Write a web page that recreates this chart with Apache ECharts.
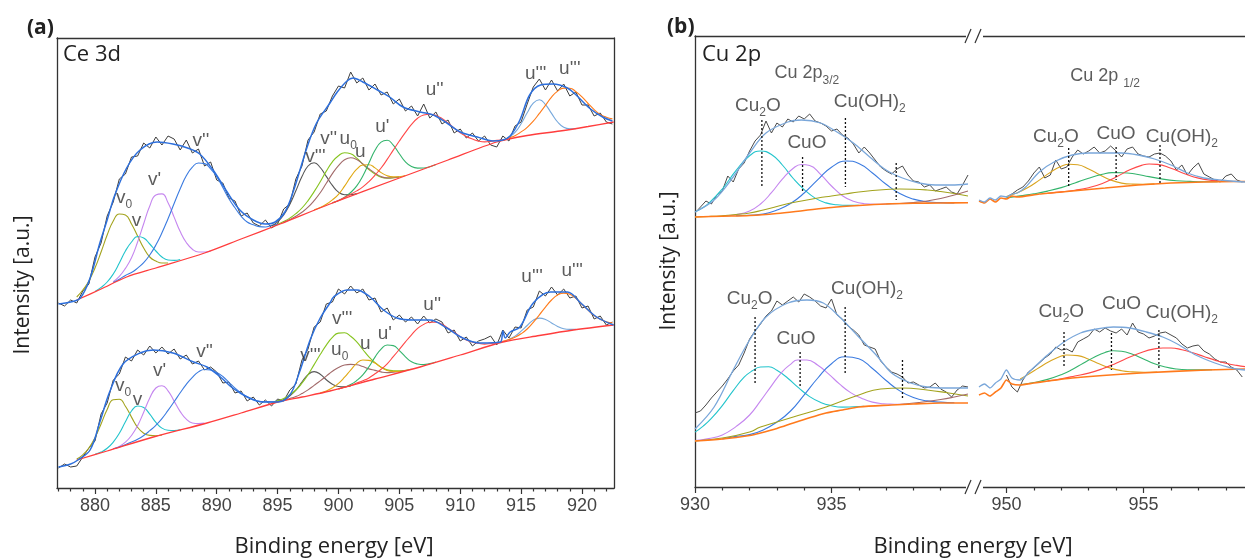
<!DOCTYPE html>
<html>
<head>
<meta charset="utf-8">
<title>XPS Ce 3d and Cu 2p</title>
<script src="https://cdn.jsdelivr.net/npm/echarts@6/dist/echarts.min.js"></script>
<style>
  html, body { margin: 0; padding: 0; background: #ffffff; }
  #chart { width: 1245px; height: 558px; }
</style>
</head>
<body>
<div id="chart"></div>
<script>
// ---------------- Ce 3d (panel a) ----------------
const ceTickMajor = [880, 885, 890, 895, 900, 905, 910, 915, 920];
const ceTickMinor = [877, 878, 879, 881, 882, 883, 884, 886, 887, 888, 889, 891, 892, 893, 894, 896, 897, 898, 899,
  901, 902, 903, 904, 906, 907, 908, 909, 911, 912, 913, 914, 916, 917, 918, 919, 921, 922];

const ceEnergy = [877, 877.5, 878, 878.5, 879, 879.5, 880, 880.5, 881, 881.5, 882, 882.5, 883, 883.5, 884, 884.5,
  885, 885.5, 886, 886.5, 887, 887.5, 888, 888.5, 889, 889.5, 890, 890.5, 891, 891.5, 892, 892.5, 893, 893.5,
  894, 894.5, 895, 895.5, 896, 896.5, 897, 897.5, 898, 898.5, 899, 899.5, 900, 900.5, 901, 901.5, 902, 902.5,
  903, 903.5, 904, 904.5, 905, 905.5, 906, 906.5, 907, 907.5, 908, 908.5, 909, 909.5, 910, 910.5, 911, 911.5,
  912, 912.5, 913, 913.5, 914, 914.5, 915, 915.5, 916, 916.5, 917, 917.5, 918, 918.5, 919, 919.5, 920, 920.5,
  921, 921.5, 922, 922.5];

const ceTopRaw = [185, 182, 188, 185, 197, 204, 231, 245, 272, 286, 309, 314, 331, 332, 345, 340, 351, 343, 352, 349,
  338, 348, 335, 339, 322, 326, 308, 305, 290, 287, 272, 275, 265, 262, 268, 260, 264, 279, 284, 309, 322, 348,
  356, 374, 377, 392, 402, 400, 416, 405, 410, 398, 404, 393, 396, 384, 389, 377, 382, 372, 384, 370, 376, 364,
  368, 355, 359, 350, 355, 347, 352, 343, 341, 352, 347, 362, 366, 384, 401, 409, 398, 408, 397, 404, 392, 396,
  383, 383, 372, 375, 366, 364];

const ceBotRaw = [20, 24, 21, 22, 31, 40, 47, 74, 85, 108, 114, 131, 127, 138, 133, 142, 135, 141, 134, 139, 129, 133,
  124, 127, 118, 121, 116, 105, 106, 95, 97, 87, 91, 83, 88, 82, 89, 87, 98, 104, 128, 139, 161, 166, 184, 186,
  199, 194, 202, 195, 199, 188, 190, 176, 180, 168, 173, 166, 171, 164, 172, 165, 169, 166, 155, 158, 147, 151,
  142, 147, 149, 152, 143, 158, 150, 161, 160, 178, 181, 197, 192, 201, 193, 199, 190, 192, 180, 182, 169, 172,
  163, 166];

const ceTopBg = [[878.5, 188], [880.5, 199], [882.6, 211], [885, 220], [889, 235], [892, 249], [895.2, 264], [899.3, 284],
  [905, 310], [909, 328], [913, 346], [915.5, 352.5], [918.2, 357], [920.5, 361.5], [922.6, 366]];
const ceTopEnvelope = [[877, 184], [878, 186], [878.8, 190], [879.6, 210], [880.4, 245], [881, 268], [881.6, 292],
  [882.6, 320], [883.7, 338], [885.1, 346], [886.4, 344], [887.6, 340], [888.6, 334], [889.7, 318], [890.8, 297],
  [891.9, 278], [893, 268], [894, 264], [894.8, 266], [895.6, 276], [896.3, 297], [897.4, 340], [898.2, 365],
  [899.3, 385], [899.9, 396], [900.7, 407], [901.2, 410], [902, 406], [903.2, 398], [904.2, 391], [905.3, 381],
  [906.7, 376], [907.8, 373], [908.9, 365], [910, 356], [911.4, 351], [912.7, 347], [913.5, 348], [914.1, 352],
  [914.9, 368], [915.7, 393], [916.6, 403], [917.6, 404], [918.8, 400], [919.6, 392], [920.7, 379], [921.7, 371],
  [922.5, 367]];

const ceTopV0 = [[878.5, 191], [879, 198], [879.5, 207], [880, 220], [880.5, 236], [881, 253], [881.5, 267], [882, 274],
  [882.5, 273], [883, 264], [883.5, 252], [884, 240], [884.5, 231], [885, 227], [885.5, 225], [886, 225]];
const ceTopV = [[880, 196.5], [880.5, 200.6], [881, 206], [881.5, 214], [882, 225], [882.5, 237], [883, 246],
  [883.5, 251.5], [884, 250], [884.5, 244], [885, 237], [885.5, 231], [886, 228], [886.5, 227.6], [887, 228.5]];
const ceTopV1 = [[881.5, 206.3], [882, 211.6], [882.5, 219.6], [883, 230.2], [883.5, 246], [884, 264.3], [884.5, 282],
  [885, 293.1], [885.5, 294.1], [886, 285.2], [886.5, 270.9], [887, 256.4], [887.5, 245.5], [888, 238.8],
  [888.5, 236], [889, 236], [889.5, 237]];
const ceTopV2 = [[881.5, 205.4], [882, 208.8], [882.5, 212.6], [883, 215.5], [883.5, 219.9], [884, 225.3], [884.5, 233],
  [885, 242.9], [885.5, 255.2], [886, 269.3], [886.5, 284.5], [887, 299.3], [887.5, 312.2], [888, 320.9], [888.5, 325],
  [889, 324.4], [889.5, 319.2], [890, 311.3], [890.5, 300.5], [891, 289.3], [891.5, 280.2], [892, 271.9], [892.5, 266],
  [893, 263.3], [893.5, 261.4], [894, 261], [894.5, 262.6], [895, 263.8]];
const ceTopV3 = [[894.5, 262.1], [895, 266.2], [895.5, 273.1], [896, 283.6], [896.5, 297.2], [897, 311.4], [897.5, 322],
  [898, 325.3], [898.5, 320.5], [899, 311.6], [899.5, 302.6], [900, 295.9], [900.5, 293.3], [901, 293.4], [901.5, 294.4]];
const ceTopV2b = [[895, 263.4], [895.5, 266.4], [896, 269.9], [896.5, 274.3], [897, 280], [897.5, 287.4], [898, 296.4],
  [898.5, 306.3], [899, 316.9], [899.5, 326.2], [900, 332.3], [900.5, 335.2], [901, 334.3], [901.5, 329.8], [902, 323.9],
  [902.5, 318.4], [903, 314], [903.5, 310.8], [904, 309.8], [904.5, 310.2], [905, 311]];
const ceTopU0 = [[895.5, 265.7], [896, 268.5], [896.5, 271.7], [897, 275.7], [897.5, 280.8], [898, 287.4], [898.5, 295.2],
  [899, 304.7], [899.5, 314.4], [900, 322.4], [900.5, 328.2], [901, 330.3], [901.5, 328.4], [902, 324], [902.5, 319.2],
  [903, 314.9], [903.5, 311.4], [904, 310.1], [904.5, 310.3], [905, 311.1]];
const ceTopU = [[898, 278.1], [898.5, 280.4], [899, 283.7], [899.5, 288.1], [900, 293.7], [900.5, 301.9], [901, 311.1],
  [901.5, 318.8], [902, 323], [902.5, 323.3], [903, 320.1], [903.5, 315.4], [904, 312.2], [904.5, 311.1], [905, 311.2],
  [905.5, 312.4]];
const ceTopU1 = [[899.5, 285.1], [900, 287.4], [900.5, 290.7], [901, 295.5], [901.5, 302.1], [902, 312], [902.5, 324.9],
  [903, 337.7], [903.5, 345.9], [904, 347.7], [904.5, 342.8], [905, 334.2], [905.5, 326.1], [906, 321.4], [906.5, 319.9],
  [907, 320], [907.5, 321.3], [908, 323.5]];
const ceTopU2 = [[899.5, 285.3], [900, 287.5], [900.5, 290.5], [901, 293.8], [901.5, 297.1], [902, 301.1], [902.5, 306.4],
  [903, 312.9], [903.5, 320], [904, 328.6], [904.5, 337.9], [905, 347], [905.5, 355.6], [906, 363.6], [906.5, 369.8],
  [907, 373], [907.5, 373.8], [908, 372.6], [908.5, 369.6], [909, 365], [909.5, 359.9], [910, 355.1], [910.5, 351.5],
  [911, 348.9], [911.5, 346.9], [912, 346.1], [912.5, 346.6], [913, 347.8], [913.5, 348]];
const ceTopU3 = [[913.5, 347.5], [914, 350.9], [914.5, 355.6], [915, 364.3], [915.5, 375.2], [916, 384.9], [916.5, 388.3],
  [917, 383.4], [917.5, 374.6], [918, 366], [918.5, 360.7], [919, 359.2], [919.5, 359.3]];
const ceTopU4 = [[913.5, 347.5], [914, 350.1], [914.5, 352.3], [915, 356.1], [915.5, 360.7], [916, 366.8], [916.5, 374.6],
  [917, 382.6], [917.5, 390.9], [918, 396.9], [918.5, 399.9], [919, 399.8], [919.5, 396.4], [920, 391.1], [920.5, 384.5],
  [921, 378.4], [921.5, 373.5], [922, 370.8], [922.5, 369.1]];

const ceBotBg = [[878.5, 28], [881, 37], [884.8, 51], [889.2, 65], [892, 75], [895, 86], [897, 91], [899.3, 97],
  [903, 109], [906.7, 121], [910, 133], [913.5, 146], [916.5, 152.5], [919.3, 158], [922.6, 163]];
const ceBotEnvelope = [[877, 21], [878, 24], [878.6, 28], [879.6, 38], [880.4, 66], [881.2, 96], [882.3, 124],
  [883.7, 135], [884.8, 138], [886.4, 135], [888.1, 126], [889.2, 121], [890.3, 111], [891.3, 100], [892.5, 91],
  [893.8, 86], [895, 86], [896, 93], [896.8, 116], [897.7, 149], [898.5, 170], [899.3, 185], [899.6, 191], [900.7, 198],
  [901.5, 198], [902.6, 191], [903.7, 178], [904.8, 170], [906.1, 168], [907.5, 168], [908.9, 160], [910.2, 150],
  [911.6, 145], [913.3, 146], [913.5, 157], [913.7, 150], [914.1, 156], [914.9, 161], [916, 185], [917.4, 196],
  [918.8, 196], [919.9, 185], [921.2, 171], [922.6, 163]];

const ceBotV0 = [[878.5, 29], [879, 33.2], [879.5, 40], [880, 50.3], [880.5, 64], [881, 78.5], [881.5, 88.3], [882, 88.8],
  [882.5, 81.7], [883, 70.9], [883.5, 60.7], [884, 54.8], [884.5, 52.6], [885, 52.3], [885.5, 53]];
const ceBotV = [[880, 33.7], [880.5, 35.9], [881, 39.7], [881.5, 45.9], [882, 54.7], [882.5, 66.3], [883, 77], [883.5, 82],
  [884, 80.5], [884.5, 73.8], [885, 65.7], [885.5, 59.9], [886, 57.7], [886.5, 57.4], [887, 58.2]];
const ceBotV1 = [[881.5, 39.3], [882, 41.6], [882.5, 45.8], [883, 52.5], [883.5, 62.3], [884, 75.8], [884.5, 90], [885, 100],
  [885.5, 102.3], [886, 97.2], [886.5, 86.9], [887, 76.4], [887.5, 68.8], [888, 65], [888.5, 64.4], [889, 64.9]];
const ceBotV2 = [[881.5, 39.2], [882, 40.9], [882.5, 43.3], [883, 46], [883.5, 48.7], [884, 52.5], [884.5, 57.3], [885, 62.7],
  [885.5, 69.4], [886, 77.6], [886.5, 86.3], [887, 95.2], [887.5, 103.6], [888, 110.7], [888.5, 116.1], [889, 118.5],
  [889.5, 118], [890, 115.6], [890.5, 111.5], [891, 105.7], [891.5, 99.9], [892, 95], [892.5, 91.2], [893, 88.5],
  [893.5, 86.6], [894, 86.2], [894.5, 86.1], [895, 87.2], [895.5, 87.6]];
const ceBotV3 = [[895, 86.3], [895.5, 88.3], [896, 92.2], [896.5, 97.9], [897, 106], [897.5, 113.3], [898, 116.4],
  [898.5, 113.8], [899, 108.3], [899.5, 103.8], [900, 101.5], [900.5, 101.3], [901, 102]];
const ceBotV2b = [[894.5, 84.6], [895, 87.3], [895.5, 89.5], [896, 93.3], [896.5, 98], [897, 104.8], [897.5, 113.3],
  [898, 123.4], [898.5, 133.5], [899, 142.9], [899.5, 150.6], [900, 154.9], [900.5, 155.2], [901, 151.7], [901.5, 146.1],
  [902, 138.5], [902.5, 131.1], [903, 125.4], [903.5, 120.8], [904, 118.1], [904.5, 117.3], [905, 117.2], [905.5, 117.8],
  [906, 118.8]];
const ceBotU0 = [[895, 86.2], [895.5, 87.5], [896, 89.5], [896.5, 91.4], [897, 94.4], [897.5, 98.1], [898, 102.6],
  [898.5, 107.1], [899, 111.9], [899.5, 116.8], [900, 120.6], [900.5, 123], [901, 123.6], [901.5, 123.3], [902, 121.4],
  [902.5, 119.1], [903, 117.6], [903.5, 116.1], [904, 115.4], [904.5, 115.9], [905, 116.5], [905.5, 117.5]];
const ceBotU = [[898.5, 95.3], [899, 97], [899.5, 100.1], [900, 104.6], [900.5, 110.8], [901, 117.9], [901.5, 124.6],
  [902, 128], [902.5, 127.6], [903, 124.9], [903.5, 120.8], [904, 117.6], [904.5, 116.6], [905, 116.5], [905.5, 117.3]];
const ceBotU1 = [[900, 99.1], [900.5, 100.9], [901, 103.4], [901.5, 107.5], [902, 113.2], [902.5, 121.2], [903, 130.9],
  [903.5, 138.9], [904, 143], [904.5, 142.4], [905, 137.4], [905.5, 131.2], [906, 126.2], [906.5, 124], [907, 123.4],
  [907.5, 124.4], [908, 126.1]];
const ceBotU2 = [[900, 99.1], [900.5, 100.7], [901, 102.5], [901.5, 104.9], [902, 107.2], [902.5, 110.1], [903, 114.2],
  [903.5, 118.7], [904, 124.2], [904.5, 131.3], [905, 138.6], [905.5, 146.1], [906, 153.2], [906.5, 159.6], [907, 163.6],
  [907.5, 165.8], [908, 165.7], [908.5, 163.7], [909, 159.8], [909.5, 155.8], [910, 151.4], [910.5, 148.1], [911, 145.9],
  [911.5, 144.7], [912, 143.9], [912.5, 144.5], [913, 145.1], [913.5, 146.5]];
const ceBotU3 = [[913.5, 146.5], [914, 148.6], [914.5, 151.9], [915, 156.8], [915.5, 162.5], [916, 167.9], [916.5, 169.9],
  [917, 168.6], [917.5, 165.1], [918, 161.6], [918.5, 159.3], [919, 158.6], [919.5, 158.8]];
const ceBotU4 = [[913.5, 146.6], [914, 148.4], [914.5, 150.8], [915, 154.2], [915.5, 159], [916, 165.7], [916.5, 173.1],
  [917, 180.9], [917.5, 188], [918, 193], [918.5, 194.9], [919, 193.7], [919.5, 189.7], [920, 183.7], [920.5, 177.9],
  [921, 172.4], [921.5, 168.8], [922, 166.1], [922.5, 165.1]];

// peak labels: [text, subscript, energy, intensity]
const ceTopLabels = [["v", "0", 882.4, 289], ["v", "", 883.4, 266], ["v'", "", 884.9, 307], ["v''", "", 888.7, 346],
  ["v'''", "", 898.1, 330], ["v''", "", 899.2, 348], ["u", "0", 900.8, 348], ["u", "", 901.8, 335], ["u'", "", 903.6, 360],
  ["u''", "", 907.9, 397], ["u'''", "", 916.2, 413], ["u'''", "", 919.0, 418]];
const ceBotLabels = [["v", "0", 882.3, 101], ["v", "", 883.5, 87], ["v'", "", 885.3, 116], ["v''", "", 889.0, 135],
  ["v'''", "", 897.7, 131], ["v'''", "", 900.3, 168], ["u", "0", 900.1, 137], ["u", "", 902.2, 143], ["u'", "", 903.8, 153],
  ["u''", "", 907.7, 182], ["u'''", "", 915.9, 210], ["u'''", "", 919.2, 216]];

// ---------------- Cu 2p (panel b) ----------------
const cuLeftTickMajor = [930, 935];
const cuLeftTickMinor = [931, 932, 933, 934, 936, 937, 938, 939];
const cuRightTickMajor = [950, 955];
const cuRightTickMinor = [949, 951, 952, 953, 954, 956, 957, 958];

const cuLeftEnergy = [930, 930.2, 930.4, 930.6, 930.8, 931, 931.2, 931.4, 931.6, 931.8, 932, 932.2, 932.4, 932.6, 932.8,
  933, 933.2, 933.4, 933.6, 933.8, 934, 934.2, 934.4, 934.6, 934.8, 935, 935.2, 935.4, 935.6, 935.8, 936, 936.2,
  936.4, 936.6, 936.8, 937, 937.2, 937.4, 937.6, 937.8, 938, 938.2, 938.4, 938.6, 938.8, 939, 939.2, 939.4, 939.6,
  939.8, 940];
const cuRightEnergy = [950, 950.2, 950.4, 950.6, 950.8, 951, 951.2, 951.4, 951.6, 951.8, 952, 952.2, 952.4, 952.6,
  952.8, 953, 953.2, 953.4, 953.6, 953.8, 954, 954.2, 954.4, 954.6, 954.8, 955, 955.2, 955.4, 955.6, 955.8, 956,
  956.2, 956.4, 956.6, 956.8, 957, 957.2, 957.4, 957.6, 957.8, 958, 958.2, 958.4, 958.6];

const cuTopRawLeft = [274, 280, 286, 283, 292, 296, 311, 305, 318, 324, 336, 346, 352, 366, 354, 364, 360, 368, 365, 371,
  368, 373, 366, 364, 361, 356, 358, 352, 349, 343, 334, 340, 334, 327, 320, 316, 313, 318, 321, 312, 306, 305, 300,
  302, 296, 298, 300, 295, 293, 302, 312];
const cuTopRawRight = [290, 293, 297, 300, 306, 314, 320, 309, 312, 327, 318, 320, 330, 337, 333, 336, 340, 334, 336, 341,
  336, 330, 338, 340, 333, 331, 330, 333, 334, 331, 326, 317, 322, 312, 319, 324, 313, 310, 307, 305, 311, 313, 307, 305];
const cuBotRawLeft = [74, 76, 82, 89, 95, 101, 108, 116, 122, 134, 148, 156, 163, 171, 176, 186, 182, 186, 190, 185, 193,
  190, 186, 181, 179, 188, 172, 168, 161, 157, 152, 142, 140, 138, 126, 120, 115, 113, 110, 104, 105, 102, 99, 100,
  104, 98, 95, 90, 97, 101, 100];
const cuBotRawRight = [112, 100, 95, 107, 115, 119, 124, 129, 133, 140, 137, 138, 135, 145, 148, 151, 158, 155, 159, 156,
  154, 158, 152, 164, 155, 153, 149, 151, 154, 155, 152, 149, 143, 139, 141, 142, 136, 133, 128, 125, 125, 120, 117, 110];

const cuTopBgLeft = [[930, 270], [931, 270.8], [932, 271.5], [933, 273.5], [934, 276.5], [935, 279.5], [936, 281.5],
  [937, 283], [938, 283.7], [939, 284], [940, 284.2]];
const cuTopEnvLeft = [[930, 275], [930.7, 287], [931.4, 310], [932, 334], [932.6, 354], [933.4, 365], [933.9, 367],
  [934.6, 364], [935.2, 355], [935.8, 344], [936.4, 330], [937, 317], [937.6, 309], [938.2, 304], [938.8, 302],
  [939.4, 302], [940, 303]];
const cuTopCu2O = [[930, 275.2], [930.2, 277.9], [930.5, 283.6], [931, 298], [931.5, 316.4], [932, 331.2], [932.4, 336],
  [932.8, 332.5], [933.2, 322], [933.6, 308.5], [934, 297.4], [934.4, 288.9], [934.8, 284.1], [935.2, 282.2],
  [935.6, 281.6], [936, 281.7]];
const cuTopCuO = [[931, 271], [931.5, 272.3], [932, 276.1], [932.4, 283], [932.8, 294.3], [933.2, 307.9], [933.6, 318.8],
  [933.9, 322.5], [934.2, 321.5], [934.6, 312.6], [935, 301], [935.4, 291.3], [935.8, 285.7], [936.2, 283.3],
  [936.6, 282.8], [937, 283]];
const cuTopCuOH = [[931.5, 271.3], [932, 271.8], [932.5, 272.9], [933, 276.9], [933.5, 283.5], [934, 294], [934.5, 307.3],
  [935, 319.8], [935.55, 326], [936, 323.5], [936.5, 314], [937, 302.7], [937.5, 293.4], [938, 287.9], [938.5, 285.3],
  [939, 284.4], [939.5, 284.1]];
const cuTopSat = [[930, 270], [930.5, 270.5], [931, 271.3], [931.5, 272.5], [932, 274], [932.5, 277], [933, 280.5],
  [933.5, 284], [934, 286.5], [934.5, 289], [935, 291], [935.5, 293], [936, 295], [936.5, 296.5], [937, 297.5],
  [937.5, 298], [938, 297.8], [938.5, 297], [939, 295.5], [939.5, 293.5], [940, 291]];
const cuTopSat2 = [[937, 283], [937.5, 283.5], [938, 284.5], [938.5, 286], [939, 288.5], [939.5, 292], [940, 296]];

const cuTopBgRight = [[949, 286], [949.2, 284], [949.4, 288], [949.6, 285], [949.8, 289], [950, 288], [950.2, 291],
  [950.4, 290], [951.2, 293], [952.4, 296], [953.6, 299], [954.8, 302], [956, 304], [957.2, 305], [958.4, 305.5],
  [958.7, 305.5]];
const cuTopEnvRight = [[949, 287], [949.2, 285], [949.4, 289], [949.6, 287], [949.8, 291], [950, 290], [950.2, 293],
  [950.4, 294], [950.7, 300], [951.2, 315], [951.8, 326], [952.4, 332], [953, 334], [953.6, 334], [954.2, 334],
  [954.8, 332], [955.4, 328], [956, 322], [956.6, 314], [957.2, 309], [957.8, 307], [958.4, 305.5], [958.7, 305]];
const cuTopCu2Or = [[950, 290.4], [950.4, 294.2], [950.8, 299.7], [951.2, 306.9], [951.6, 314.6], [952, 320.7],
  [952.3, 322.8], [952.6, 322.2], [953, 318.1], [953.4, 312.3], [953.8, 307.1], [954.2, 303.9], [954.6, 302.9],
  [955, 302.8], [955.4, 303.1]];
const cuTopCuOr = [[950, 289.1], [950.5, 291.1], [951, 293.2], [951.5, 295.9], [952, 299.4], [952.5, 304], [953, 308.8],
  [953.5, 312.7], [953.85, 314.4], [954.2, 314.3], [954.7, 313], [955.2, 310.4], [955.7, 307.9], [956.2, 306.3],
  [956.7, 305.6], [957.2, 305.3], [957.7, 305.3]];
const cuTopCuOHr = [[951.5, 293.8], [952, 295.1], [952.5, 296.8], [953, 299.3], [953.5, 303.6], [954, 309.9], [954.5, 317.2],
  [955, 322.2], [955.2, 323], [955.5, 322.6], [956, 318.7], [956.5, 313.2], [957, 308.9], [957.5, 306.6], [958, 305.8],
  [958.5, 305.5]];

const cuBotBgLeft = [[930, 46], [931, 48], [932, 51.5], [932.4, 54], [933, 58.5], [933.6, 64], [934, 67.5], [934.8, 74],
  [935.4, 77], [936, 80], [937.2, 82], [938, 83], [939, 84], [940, 84]];
const cuBotEnvLeft = [[930, 58], [930.7, 80], [931.4, 117], [932, 147], [932.6, 170], [933.4, 184], [934.1, 187],
  [934.7, 184], [935.3, 170], [936, 150], [936.7, 130], [937.2, 114], [937.9, 104], [938.5, 100], [939.2, 99], [940, 99]];
const cuBotCu2O = [[930, 54.9], [930.3, 60.9], [930.6, 68.6], [931, 81.4], [931.4, 96.4], [931.8, 109.8], [932.1, 116.2],
  [932.4, 120], [932.7, 120.3], [933, 116.7], [933.4, 108.8], [933.8, 99.1], [934.2, 90.4], [934.6, 84.6], [935, 81.3],
  [935.4, 79.9], [935.8, 80.2], [936.2, 80.7]];
const cuBotCuO = [[930, 46.4], [930.5, 48.4], [931, 52.1], [931.5, 60.4], [932, 72], [932.4, 86.1], [932.8, 101.2],
  [933.2, 115.4], [933.5, 122.6], [933.75, 127], [934.1, 127], [934.5, 121.8], [934.9, 112.9], [935.3, 102.8],
  [935.7, 94.4], [936.1, 88.8], [936.5, 84.9], [936.9, 83.3], [937.3, 82.8], [937.7, 82.6]];
const cuBotCuOH = [[931, 48.1], [931.5, 50.6], [932, 52.4], [932.5, 57.1], [933, 64.9], [933.5, 76], [934, 92.2],
  [934.5, 109], [935, 123.3], [935.5, 130.2], [936, 128.3], [936.5, 118.5], [937, 106.5], [937.5, 96.1], [938, 89.4],
  [938.5, 86.1], [939, 84.9], [939.5, 84.2]];
const cuBotSat = [[930, 46], [931, 49], [932, 55], [932.4, 60], [933, 65], [933.6, 70], [934.8, 80], [936, 92],
  [936.8, 98], [937.6, 99], [938.5, 97], [939.3, 94], [940, 91]];
const cuBotSat2 = [[937.5, 82.5], [938.2, 84.5], [939, 87.5], [939.5, 90], [940, 93]];

const cuBotBgRight = [[949, 92], [949.2, 94], [949.4, 91], [949.6, 95], [949.8, 99], [950, 107], [950.2, 103],
  [950.5, 102], [951, 104], [952.4, 109], [954.9, 114], [957.3, 117], [958.7, 118]];
const cuBotEnvRight = [[949, 100], [949.2, 103], [949.4, 99], [949.6, 104], [949.8, 108], [950, 117], [950.2, 109],
  [950.5, 107], [950.9, 117], [951.5, 132], [952.1, 145], [952.7, 154], [953.3, 158], [953.9, 160], [954.5, 159],
  [955.1, 155], [955.7, 150], [956.3, 142], [956.9, 132], [957.6, 124], [958.2, 119], [958.7, 117]];
const cuBotCu2Or = [[950.5, 108.1], [950.8, 112.6], [951.2, 119.5], [951.6, 125.9], [952, 130.9], [952.2, 132],
  [952.6, 131.4], [953, 127.7], [953.4, 123], [953.8, 118.9], [954.2, 116.3], [954.6, 115.1], [955, 114.7], [955.5, 114.9]];
const cuBotCuOr = [[950.5, 102.1], [951, 104.5], [951.5, 107.6], [952, 112.3], [952.4, 117.5], [952.8, 123.8],
  [953.2, 129.8], [953.6, 134.6], [953.9, 136.2], [954.2, 135.7], [954.6, 132.7], [955, 128], [955.4, 123.3],
  [955.8, 120], [956.2, 118], [956.6, 117.2], [957, 117.1], [957.5, 117.2]];
const cuBotCuOHr = [[951.5, 106.1], [952, 108.3], [952.5, 111], [953, 113.9], [953.5, 118.2], [954, 123.8], [954.5, 129.9],
  [955, 135.3], [955.4, 138.1], [955.7, 139], [956, 139], [956.4, 137.2], [956.8, 134.2], [957.2, 130.5], [957.6, 126.9],
  [958, 123.8], [958.4, 121.6], [958.7, 120.4]];

// dotted position markers: [energy, upper intensity, lower intensity]
const cuTopMarksLeft = [[932.45, 367, 299], [933.94, 330, 295], [935.51, 369, 300], [937.37, 324, 287]];
const cuTopMarksRight = [[952.27, 339, 300], [954.0, 340, 307], [955.6, 342, 304]];
const cuBotMarksLeft = [[932.2, 170, 102], [933.85, 135, 99], [935.5, 180, 112], [937.6, 127, 87]];
const cuBotMarksRight = [[952.1, 155, 119], [953.83, 154, 117], [955.56, 157, 117]];

const cuLabelsLeft = [["Cu 2p", "3/2", 934.1, 412, "t"], ["Cu", "2", 932.3, 380, "o"], ["CuO", "", 934.1, 343],
  ["Cu(OH)", "2", 936.4, 384], ["Cu", "2", 932.0, 187, "o"], ["CuO", "", 933.7, 147], ["Cu(OH)", "2", 936.3, 197]];
const cuLabelsRight = [["Cu 2p ", "1/2", 953.6, 409, "t"], ["Cu", "2", 951.8, 349, "o"], ["CuO", "", 954.0, 352],
  ["Cu(OH)", "2", 956.4, 349], ["Cu", "2", 952.0, 174, "o"], ["CuO", "", 954.2, 182], ["Cu(OH)", "2", 956.4, 173]];

// ---------------- drawing ----------------
const TITLE_FONT = '"Open Sans", "Liberation Sans", Arial, sans-serif';
const LABEL_FONT = '"Liberation Sans", Arial, sans-serif';
const AXIS_COLOR = '#333333';
const TEXT_COLOR = '#333333';

const C = {
  ceRaw: '#3d3d3d', ceEnv: '#2d6fdc', ceBg: '#ff3d3d',
  v0: '#a3a31d', v: '#22c4cc', v1: '#c586ef', v2: '#3b7be0', v3: '#575757', v2b: '#86c41f',
  u0: '#a26a6a', u: '#e0a812', u1: '#34b46c', u2: '#ff4848', u3: '#76a8dc', u4: '#ff7b1a',
  cuRaw: '#4a4a4a', cuEnv: '#7aa7da', cuBg: '#ff7a1c',
  cu2o: '#22c4cc', cuo: '#c586ef', cuoh: '#3b7be0', sat: '#a3a31d', sat2: '#a26a6a',
  cu2oR: '#d9a420', cuoR: '#34b46c', cuohR: '#ff4848'
};

function zip(xs, ys) { return xs.map((x, i) => [x, ys[i]]); }

function lineSeries(axis, data, color, width, smooth, z) {
  return {
    type: 'line', xAxisIndex: axis[0], yAxisIndex: axis[1], data: data,
    symbol: 'none', showSymbol: false, smooth: smooth, animation: false, silent: true,
    lineStyle: { color: color, width: width }, z: z || 2
  };
}

function markSeries(axis, marks) {
  return marks.map(m => ({
    type: 'line', xAxisIndex: axis[0], yAxisIndex: axis[1],
    data: [[m[0], m[1]], [m[0], m[2]]], symbol: 'none', animation: false, silent: true,
    lineStyle: { color: '#111111', width: 1.3, type: [2, 2] }, z: 6
  }));
}

const rich = {
  m: { fontSize: 19, fontFamily: LABEL_FONT, color: TEXT_COLOR, lineHeight: 22, verticalAlign: 'top' },
  s: { fontSize: 12, fontFamily: LABEL_FONT, color: TEXT_COLOR, lineHeight: 13, verticalAlign: 'top', padding: [11, 0, 0, 0] },
  t: { fontSize: 18, fontFamily: LABEL_FONT, color: TEXT_COLOR, lineHeight: 21, verticalAlign: 'top' },
  ts: { fontSize: 12, fontFamily: LABEL_FONT, color: TEXT_COLOR, lineHeight: 13, verticalAlign: 'top', padding: [10, 0, 0, 0] }
};

function labelText(l) {
  if (l[4] === 't') return '{t|' + l[0] + '}{ts|' + l[1] + '}';
  if (l[4] === 'o') return '{m|' + l[0] + '}{s|' + l[1] + '}{m|O}';
  return l[1] ? '{m|' + l[0] + '}{s|' + l[1] + '}' : '{m|' + l[0] + '}';
}

function labelSeries(axis, labels) {
  return {
    type: 'scatter', xAxisIndex: axis[0], yAxisIndex: axis[1], symbolSize: 1, animation: false, silent: true,
    itemStyle: { color: 'rgba(0,0,0,0)' }, z: 8,
    data: labels.map(l => ({ value: [l[2], l[3]], label: { formatter: labelText(l) } })),
    label: { show: true, position: 'inside', rich: rich }
  };
}

function xAxes(gridIndex, range, major, minor) {
  const base = { type: 'value', gridIndex: gridIndex, min: range[0], max: range[1], splitLine: { show: false } };
  return [
    Object.assign({}, base, {
      position: 'bottom',
      axisLine: { show: true, lineStyle: { color: AXIS_COLOR, width: 1.3 } },
      axisTick: { show: true, customValues: major, length: 6, lineStyle: { color: AXIS_COLOR, width: 1.2 } },
      axisLabel: { show: true, customValues: major, fontSize: 18, fontFamily: LABEL_FONT, color: '#444444', margin: 9 }
    }),
    Object.assign({}, base, {
      position: 'bottom',
      axisLine: { show: false },
      axisTick: { show: true, customValues: minor, length: 3.5, lineStyle: { color: AXIS_COLOR, width: 1.2 } },
      axisLabel: { show: false }
    }),
    Object.assign({}, base, {
      position: 'top',
      axisLine: { show: true, lineStyle: { color: AXIS_COLOR, width: 1.3 } },
      axisTick: { show: false }, axisLabel: { show: false }
    })
  ];
}

function yAxis(gridIndex, max, position, showLine) {
  return {
    type: 'value', gridIndex: gridIndex, min: 0, max: max, position: position,
    axisLine: { show: showLine, lineStyle: { color: AXIS_COLOR, width: 1.3 } },
    axisTick: { show: false }, axisLabel: { show: false }, splitLine: { show: false }
  };
}

const ceRange = [876.88, 922.63];
const cuLeftRange = [930, 940];
const cuRightRange = [949, 958.7];

const A = [0, 0];  // Ce 3d axes
const L = [3, 2];  // Cu 2p left segment
const R = [6, 3];  // Cu 2p right segment

const series = [
  // Ce 3d, upper spectrum
  lineSeries(A, zip(ceEnergy, ceTopRaw), C.ceRaw, 1, false, 1),
  lineSeries(A, ceTopV0, C.v0, 1.1, true), lineSeries(A, ceTopV, C.v, 1.1, true),
  lineSeries(A, ceTopV1, C.v1, 1.1, true), lineSeries(A, ceTopV2, C.v2, 1.1, true),
  lineSeries(A, ceTopV3, C.v3, 1.1, true), lineSeries(A, ceTopV2b, C.v2b, 1.1, true),
  lineSeries(A, ceTopU0, C.u0, 1.1, true), lineSeries(A, ceTopU, C.u, 1.1, true),
  lineSeries(A, ceTopU1, C.u1, 1.1, true), lineSeries(A, ceTopU2, C.u2, 1.1, true),
  lineSeries(A, ceTopU3, C.u3, 1.1, true), lineSeries(A, ceTopU4, C.u4, 1.1, true),
  lineSeries(A, ceTopBg, C.ceBg, 1.3, 0.3, 3),
  lineSeries(A, ceTopEnvelope, C.ceEnv, 1.5, 0.35, 4),
  // Ce 3d, lower spectrum
  lineSeries(A, zip(ceEnergy, ceBotRaw), C.ceRaw, 1, false, 1),
  lineSeries(A, ceBotV0, C.v0, 1.1, true), lineSeries(A, ceBotV, C.v, 1.1, true),
  lineSeries(A, ceBotV1, C.v1, 1.1, true), lineSeries(A, ceBotV2, C.v2, 1.1, true),
  lineSeries(A, ceBotV3, C.v3, 1.1, true), lineSeries(A, ceBotV2b, C.v2b, 1.1, true),
  lineSeries(A, ceBotU0, C.u0, 1.1, true), lineSeries(A, ceBotU, C.u, 1.1, true),
  lineSeries(A, ceBotU1, C.u1, 1.1, true), lineSeries(A, ceBotU2, C.u2, 1.1, true),
  lineSeries(A, ceBotU3, C.u3, 1.1, true), lineSeries(A, ceBotU4, C.u4, 1.1, true),
  lineSeries(A, ceBotBg, C.ceBg, 1.3, 0.3, 3),
  lineSeries(A, ceBotEnvelope, C.ceEnv, 1.5, 0.35, 4),
  labelSeries(A, ceTopLabels), labelSeries(A, ceBotLabels),

  // Cu 2p, left segment
  lineSeries(L, zip(cuLeftEnergy, cuTopRawLeft), C.cuRaw, 1, false, 1),
  lineSeries(L, cuTopCu2O, C.cu2o, 1.1, true), lineSeries(L, cuTopCuO, C.cuo, 1.1, true),
  lineSeries(L, cuTopCuOH, C.cuoh, 1.1, true), lineSeries(L, cuTopSat, C.sat, 1.1, true),
  lineSeries(L, cuTopSat2, C.sat2, 1.1, true),
  lineSeries(L, cuTopBgLeft, C.cuBg, 1.6, 0.3, 3),
  lineSeries(L, cuTopEnvLeft, C.cuEnv, 1.3, 0.35, 4),
  lineSeries(L, zip(cuLeftEnergy, cuBotRawLeft), C.cuRaw, 1, false, 1),
  lineSeries(L, cuBotCu2O, C.cu2o, 1.1, true), lineSeries(L, cuBotCuO, C.cuo, 1.1, true),
  lineSeries(L, cuBotCuOH, C.cuoh, 1.1, true), lineSeries(L, cuBotSat, C.sat, 1.1, true),
  lineSeries(L, cuBotSat2, C.sat2, 1.1, true),
  lineSeries(L, cuBotBgLeft, C.cuBg, 1.6, 0.3, 3),
  lineSeries(L, cuBotEnvLeft, C.cuEnv, 1.3, 0.35, 4),
  labelSeries(L, cuLabelsLeft),

  // Cu 2p, right segment
  lineSeries(R, zip(cuRightEnergy, cuTopRawRight), C.cuRaw, 1, false, 1),
  lineSeries(R, cuTopCu2Or, C.cu2oR, 1.1, true), lineSeries(R, cuTopCuOr, C.cuoR, 1.1, true),
  lineSeries(R, cuTopCuOHr, C.cuohR, 1.1, true),
  lineSeries(R, cuTopBgRight, C.cuBg, 1.6, 0.2, 3),
  lineSeries(R, cuTopEnvRight, C.cuEnv, 1.3, 0.25, 4),
  lineSeries(R, zip(cuRightEnergy, cuBotRawRight), C.cuRaw, 1, false, 1),
  lineSeries(R, cuBotCu2Or, C.cu2oR, 1.1, true), lineSeries(R, cuBotCuOr, C.cuoR, 1.1, true),
  lineSeries(R, cuBotCuOHr, C.cuohR, 1.1, true),
  lineSeries(R, cuBotBgRight, C.cuBg, 1.6, 0.2, 3),
  lineSeries(R, cuBotEnvRight, C.cuEnv, 1.3, 0.25, 4),
  labelSeries(R, cuLabelsRight)
].concat(
  markSeries(L, cuTopMarksLeft), markSeries(R, cuTopMarksRight),
  markSeries(L, cuBotMarksLeft), markSeries(R, cuBotMarksRight)
);

function text(x, y, str, font, rotate) {
  return {
    type: 'text', x: x, y: y, rotation: rotate ? Math.PI / 2 : 0, z: 50,
    style: { text: str, font: font, fill: '#222222', align: rotate ? 'center' : 'left', verticalAlign: 'middle' }
  };
}
function centered(x, y, str, font) {
  return {
    type: 'text', x: x, y: y, z: 50,
    style: { text: str, font: font, fill: '#222222', align: 'center', verticalAlign: 'middle' }
  };
}
// axis break symbol "//" over the interrupted frame lines
function breakMark(y) {
  return [
    { type: 'rect', z: 60, shape: { x: 966, y: y - 6, width: 17, height: 12 }, style: { fill: '#ffffff' } },
    { type: 'line', z: 61, shape: { x1: 965, y1: y + 7, x2: 971, y2: y - 7 }, style: { stroke: AXIS_COLOR, lineWidth: 1.2 } },
    { type: 'line', z: 61, shape: { x1: 975, y1: y + 7, x2: 981, y2: y - 7 }, style: { stroke: AXIS_COLOR, lineWidth: 1.2 } }
  ];
}

const option = {
  backgroundColor: '#ffffff',
  animation: false,
  grid: [
    { left: 57, top: 38, width: 557, height: 450, outerBoundsMode: 'none' },
    { left: 695, top: 36, width: 273, height: 451, outerBoundsMode: 'none' },
    { left: 979, top: 36, width: 266, height: 451, outerBoundsMode: 'none' }
  ],
  xAxis: [].concat(
    xAxes(0, ceRange, ceTickMajor, ceTickMinor),
    xAxes(1, cuLeftRange, cuLeftTickMajor, cuLeftTickMinor),
    xAxes(2, cuRightRange, cuRightTickMajor, cuRightTickMinor)
  ),
  yAxis: [
    yAxis(0, 450, 'left', true),
    yAxis(0, 450, 'right', true),
    yAxis(1, 451, 'left', true),
    yAxis(2, 451, 'left', false)
  ],
  series: series,
  graphic: [
    text(27, 28, '(a)', 'bold 21px ' + TITLE_FONT, false),
    text(667, 27, '(b)', 'bold 21px ' + TITLE_FONT, false),
    text(63, 55, 'Ce 3d', '22px ' + TITLE_FONT, false),
    text(702, 55, 'Cu 2p', '22px ' + TITLE_FONT, false),
    text(23, 285, 'Intensity [a.u.]', '21px ' + TITLE_FONT, true),
    text(669, 261, 'Intensity [a.u.]', '21px ' + TITLE_FONT, true),
    centered(334, 547, 'Binding energy [eV]', '22px ' + TITLE_FONT),
    centered(973, 547, 'Binding energy [eV]', '22px ' + TITLE_FONT)
  ].concat(breakMark(36), breakMark(487))
};

const chart = echarts.init(document.getElementById('chart'), null, { renderer: 'canvas' });
chart.setOption(option);
</script>
</body>
</html>
